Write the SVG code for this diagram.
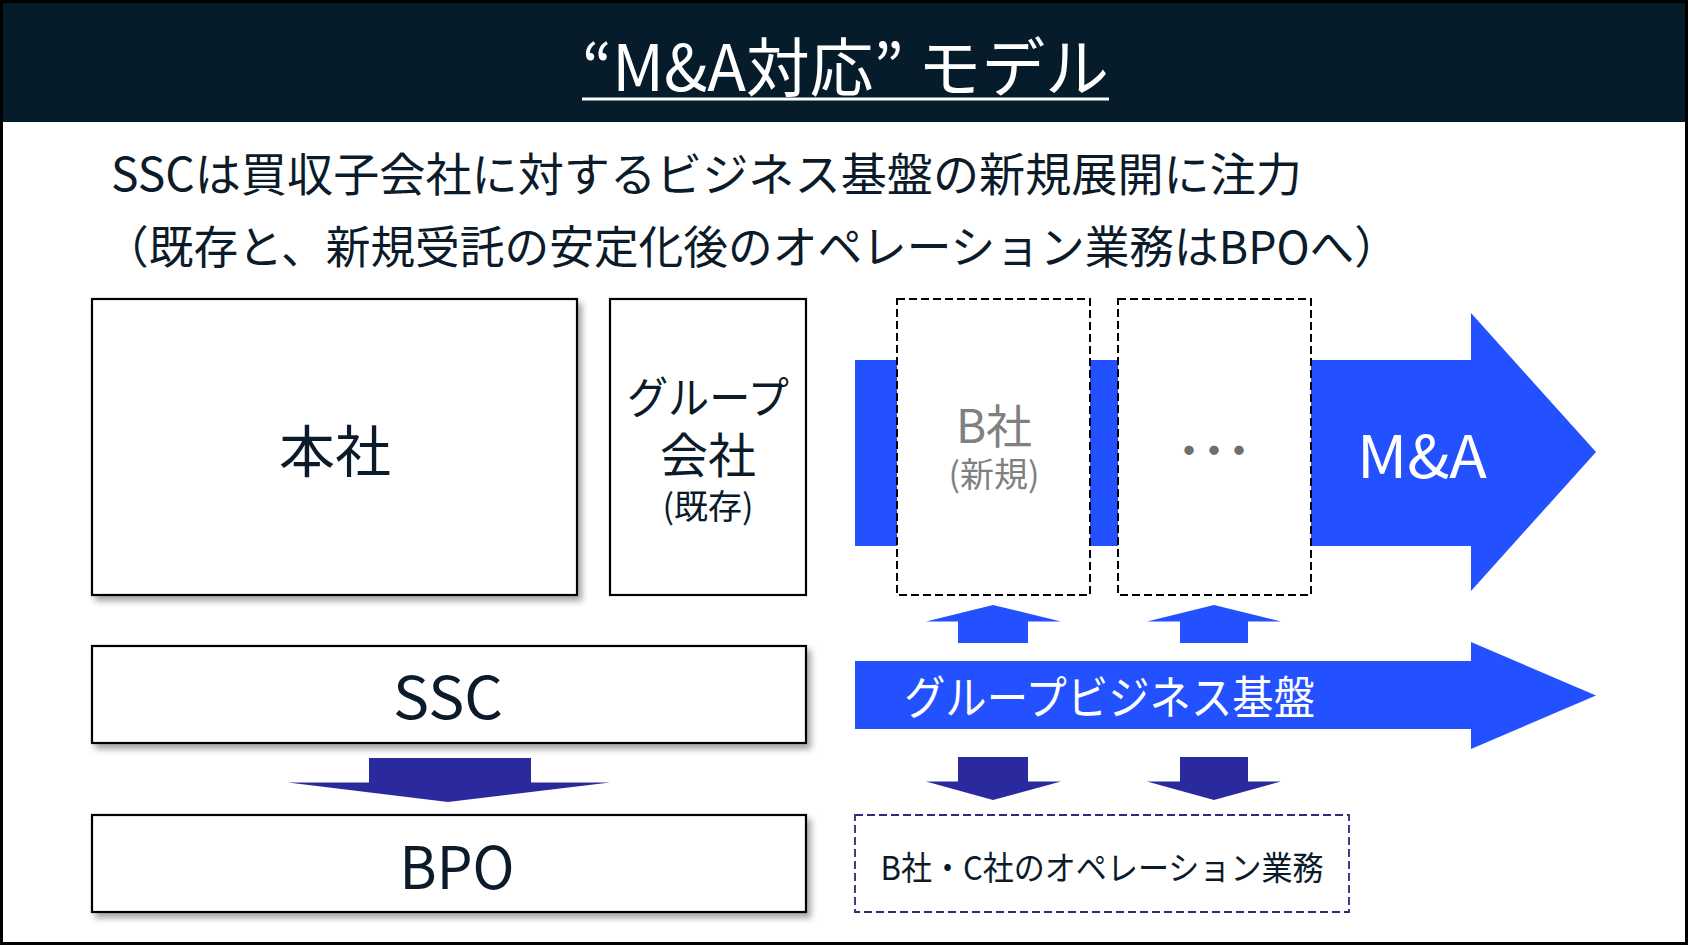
<svg xmlns="http://www.w3.org/2000/svg" width="1688" height="947" viewBox="0 0 1688 947">
<defs>
<filter id="sh" x="-5%" y="-10%" width="115%" height="130%">
<feDropShadow dx="4" dy="5" stdDeviation="3" flood-color="#000" flood-opacity="0.35"/>
</filter>
<style>
text{font-family:"Noto Sans CJK JP","Noto Sans",sans-serif;}
.box{fill:#fff;stroke:#000;stroke-width:2.2;}
.dash{fill:#fff;stroke:#000;stroke-width:2;stroke-dasharray:8 4;}
.dash2{fill:#fff;stroke:#2B2B78;stroke-width:1.8;stroke-dasharray:8 4;}
.dk{fill:#0C1B2A;}
.wh{fill:#fff;}
.gr{fill:#808080;}
.blue{fill:#2351FF;}
.navy{fill:#2A2A9E;}
</style>
</defs>
<rect x="0" y="0" width="1688" height="947" fill="#fff"/>
<g id="header">
<rect x="0" y="0" width="1688" height="122" fill="#061C2B"/>
<text x="582" y="91" font-size="64" class="wh" textLength="527" lengthAdjust="spacingAndGlyphs">“M&amp;A対応” モデル</text>
<rect x="582" y="97.5" width="527" height="3" fill="#fff"/>
</g>
<g id="subtitle">
<text x="111" y="191" font-size="46" class="dk" textLength="1191" lengthAdjust="spacingAndGlyphs">SSCは買収子会社に対するビジネス基盤の新規展開に注力</text>
<text x="104" y="264" font-size="45" class="dk" textLength="1295" lengthAdjust="spacingAndGlyphs">（既存と、新規受託の安定化後のオペレーション業務はBPOへ）</text>
</g>
<g id="connectors">
<polygon id="ma-arrow" class="blue" points="855,360 1471,360 1471,313 1596,452 1471,591 1471,546 855,546"/>
<polygon id="base-arrow" class="blue" points="855,661 1471,661 1471,642 1596,695.5 1471,749 1471,729 855,729"/>
<polygon id="up1" class="blue" points="958,643 958,621.5 926,621.5 993,605 1061,621.5 1028,621.5 1028,643"/>
<polygon id="up2" class="blue" points="1180,643 1180,621.5 1147,621.5 1214,605 1281,621.5 1248,621.5 1248,643"/>
<polygon id="down1" class="navy" points="958,757 1028,757 1028,781.5 1061,781.5 993,800 926,781.5 958,781.5"/>
<polygon id="down2" class="navy" points="1180,757 1248,757 1248,781.5 1281,781.5 1214,800 1147,781.5 1180,781.5"/>
<polygon id="down-ssc" class="navy" points="369,758 531,758 531,782.5 610,782.5 448,802 288,782.5 369,782.5"/>
</g>
<g id="honsha">
<rect x="92" y="299" width="485" height="296" class="box" filter="url(#sh)"/>
<text x="335" y="472" font-size="56" class="dk" text-anchor="middle">本社</text>
</g>
<g id="group">
<rect x="610" y="299" width="196" height="296" class="box"/>
<text x="708" y="414" font-size="44" class="dk" text-anchor="middle" textLength="162" lengthAdjust="spacingAndGlyphs">グループ</text>
<text x="708" y="473" font-size="48" class="dk" text-anchor="middle">会社</text>
<text x="708" y="519" font-size="34" class="dk" text-anchor="middle">(既存)</text>
</g>
<g id="b-company">
<rect x="897" y="299" width="193" height="296" class="dash"/>
<text x="994" y="443" font-size="46" class="gr" text-anchor="middle">B社</text>
<text x="994" y="487" font-size="34" class="gr" text-anchor="middle">(新規)</text>
</g>
<g id="others">
<rect x="1118" y="299" width="193" height="296" class="dash"/>
<text x="1189 1214 1239" y="467" font-size="44" fill="#6E6E6E" text-anchor="middle">・・・</text>
</g>
<g id="ma-label">
<text x="1422" y="478" font-size="58" class="wh" text-anchor="middle" textLength="130" lengthAdjust="spacingAndGlyphs">M&amp;A</text>
</g>
<g id="base-label">
<text x="904" y="714" font-size="46" class="wh" textLength="411" lengthAdjust="spacingAndGlyphs">グループビジネス基盤</text>
</g>
<g id="ssc">
<rect x="92" y="646" width="714" height="97" class="box" filter="url(#sh)"/>
<text x="448" y="719" font-size="58" class="dk" text-anchor="middle" textLength="110" lengthAdjust="spacingAndGlyphs">SSC</text>
</g>
<g id="bpo">
<rect x="92" y="815" width="714" height="97" class="box" filter="url(#sh)"/>
<text x="457" y="889" font-size="58" class="dk" text-anchor="middle" textLength="115" lengthAdjust="spacingAndGlyphs">BPO</text>
</g>
<g id="operation">
<rect x="855" y="815" width="494" height="97" class="dash2"/>
<text x="1102" y="880" font-size="33" class="dk" text-anchor="middle" textLength="443" lengthAdjust="spacingAndGlyphs">B社・C社のオペレーション業務</text>
</g>
<rect x="1.5" y="1.5" width="1685" height="942" fill="none" stroke="#000" stroke-width="3"/>
</svg>
